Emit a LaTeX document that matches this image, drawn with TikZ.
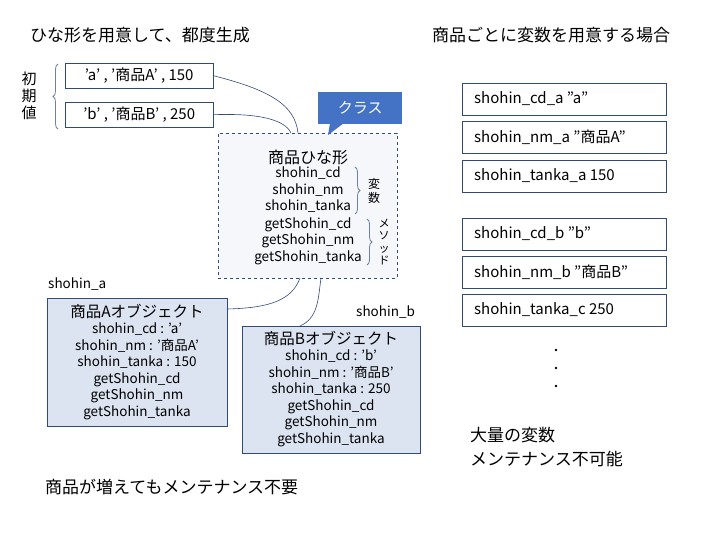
\documentclass[tikz,border=0pt]{standalone}
\usepackage{fontspec}
\setmainfont{Noto Sans CJK JP}
\usetikzlibrary{decorations.pathreplacing,positioning}
\definecolor{boxline}{HTML}{2F4B7C}
\definecolor{objfill}{HTML}{DCE4F1}
\definecolor{tmplfill}{HTML}{F5F7FB}
\definecolor{calloutblue}{HTML}{4472C4}
\tikzset{initbox/.style={draw=boxline, fill=white, minimum height=25pt, anchor=north west, inner sep=0pt, font=\fontsize{15}{15}\selectfont}}
\tikzset{varbox/.style={draw=boxline, fill=white, minimum width=204pt, minimum height=32pt, anchor=north west, inner sep=0pt, font=\fontsize{15}{15}\selectfont}}
\tikzset{objbox/.style={draw=boxline, fill=objfill, anchor=north west, inner sep=0pt}}
\tikzset{line/.style={draw=boxline, semithick}}
\tikzset{lbl/.style={font=\fontsize{13.5}{16.5}\selectfont, align=center, inner sep=0pt}}
\tikzset{title/.style={font=\fontsize{17}{20}\selectfont, anchor=west, inner sep=0pt}}
\tikzset{brc/.style={decorate, decoration={brace, amplitude=5pt}, draw=boxline!70, thick}}
\begin{document}
\begin{tikzpicture}[x=1pt,y=-1pt]
\useasboundingbox (0,0) rectangle (720,540);
%titles
\node[title] (ltitle) at (30,35) {ひな形を用意して、都度生成};
\node[title] (rtitle) at (432,35) {商品ごとに変数を用意する場合};
%initial values
\node[initbox, minimum width=148pt] (inita) at (65,63) {'a' , '商品A' , 150};
\node[initbox, minimum width=148pt] (initb) at (65,102) {'b' , '商品B' , 250};
\node[lbl, font=\fontsize{15}{17}\selectfont] (initlbl) at (29,96) {初\\期\\値};
\draw[brc] (58,129) -- (58,64);
%template
\node[draw=boxline, dashed, fill=tmplfill, minimum width=179pt, minimum height=145pt, anchor=north west, inner sep=0pt] (tmpl) at (218,133) {};
\node[lbl, font=\fontsize{16}{18}\selectfont] (tmpltitle) at (308,157) {商品ひな形};
\node[lbl] (tmplvars) at (308,190) {shohin\_cd\\shohin\_nm\\shohin\_tanka};
\node[lbl] (tmplmeth) at (308,241) {getShohin\_cd\\getShohin\_nm\\getShohin\_tanka};
\draw[brc] (355,167) -- (355,214);
\node[lbl, font=\fontsize{12}{14}\selectfont] (varlbl) at (374,191) {変\\数};
\draw[brc] (367,219) -- (367,265);
\node[lbl, font=\fontsize{11}{12.5}\selectfont] (methlbl) at (384,242) {メ\\ソ\\ッ\\ド};
%callout
\node[fill=calloutblue, text=white, minimum width=84pt, minimum height=32pt, anchor=north west, inner sep=0pt, font=\fontsize{15}{15}\selectfont] (callout) at (318,92) {クラス};
\fill[calloutblue] (330,123) -- (328,135) -- (344,123) -- cycle;
%connectors
\draw[line] (inita.east) .. controls (270,90) and (295,105) .. (298,133);
\draw[line] (initb.east) .. controls (260,113) and (285,120) .. (291,133);
%objects
\node[lbl, anchor=west] (labela) at (48,284) {shohin\_a};
\node[objbox, minimum width=180pt, minimum height=128pt] (obja) at (47,298) {};
\node[lbl] (objatext) at (137,362) {{\fontsize{15.5}{17}\selectfont 商品Aオブジェクト}\\shohin\_cd : 'a'\\shohin\_nm : '商品A'\\shohin\_tanka : 150\\getShohin\_cd\\getShohin\_nm\\getShohin\_tanka};
\node[lbl, anchor=west] (labelb) at (356,312) {shohin\_b};
\node[objbox, minimum width=178pt, minimum height=127pt] (objb) at (242,326) {};
\node[lbl] (objbtext) at (331,389) {{\fontsize{15.5}{17}\selectfont 商品Bオブジェクト}\\shohin\_cd : 'b'\\shohin\_nm : '商品B'\\shohin\_tanka : 250\\getShohin\_cd\\getShohin\_nm\\getShohin\_tanka};
\draw[line] (300,278) .. controls (292,300) and (270,308) .. (227,309);
\draw[line] (321,278) .. controls (318,300) and (318,318) .. (300,326);
\node[title] (lnote) at (45,487) {商品が増えてもメンテナンス不要};
%variables per product
\node[varbox] (cda) at (462,83) {}; \node[title, font=\fontsize{15}{15}\selectfont] at (474,99) {shohin\_cd\_a ”a”};
\node[varbox] (nma) at (462,121) {}; \node[title, font=\fontsize{15}{15}\selectfont] at (474,137) {shohin\_nm\_a ”商品A”};
\node[varbox] (tka) at (462,160) {}; \node[title, font=\fontsize{15}{15}\selectfont] at (474,176) {shohin\_tanka\_a 150};
\node[varbox] (cdb) at (462,218) {}; \node[title, font=\fontsize{15}{15}\selectfont] at (474,234) {shohin\_cd\_b ”b”};
\node[varbox] (nmb) at (462,256) {}; \node[title, font=\fontsize{15}{15}\selectfont] at (474,272) {shohin\_nm\_b ”商品B”};
\node[varbox] (tkb) at (462,294) {}; \node[title, font=\fontsize{15}{15}\selectfont] at (474,310) {shohin\_tanka\_c 250};
\foreach \y in {350,368,386} \fill (556,\y) circle (1.3pt);
\node[title] (rnote) at (470,435) {大量の変数};
\node[title] (rnote2) at (470,459) {メンテナンス不可能};
\end{tikzpicture}
\end{document}
